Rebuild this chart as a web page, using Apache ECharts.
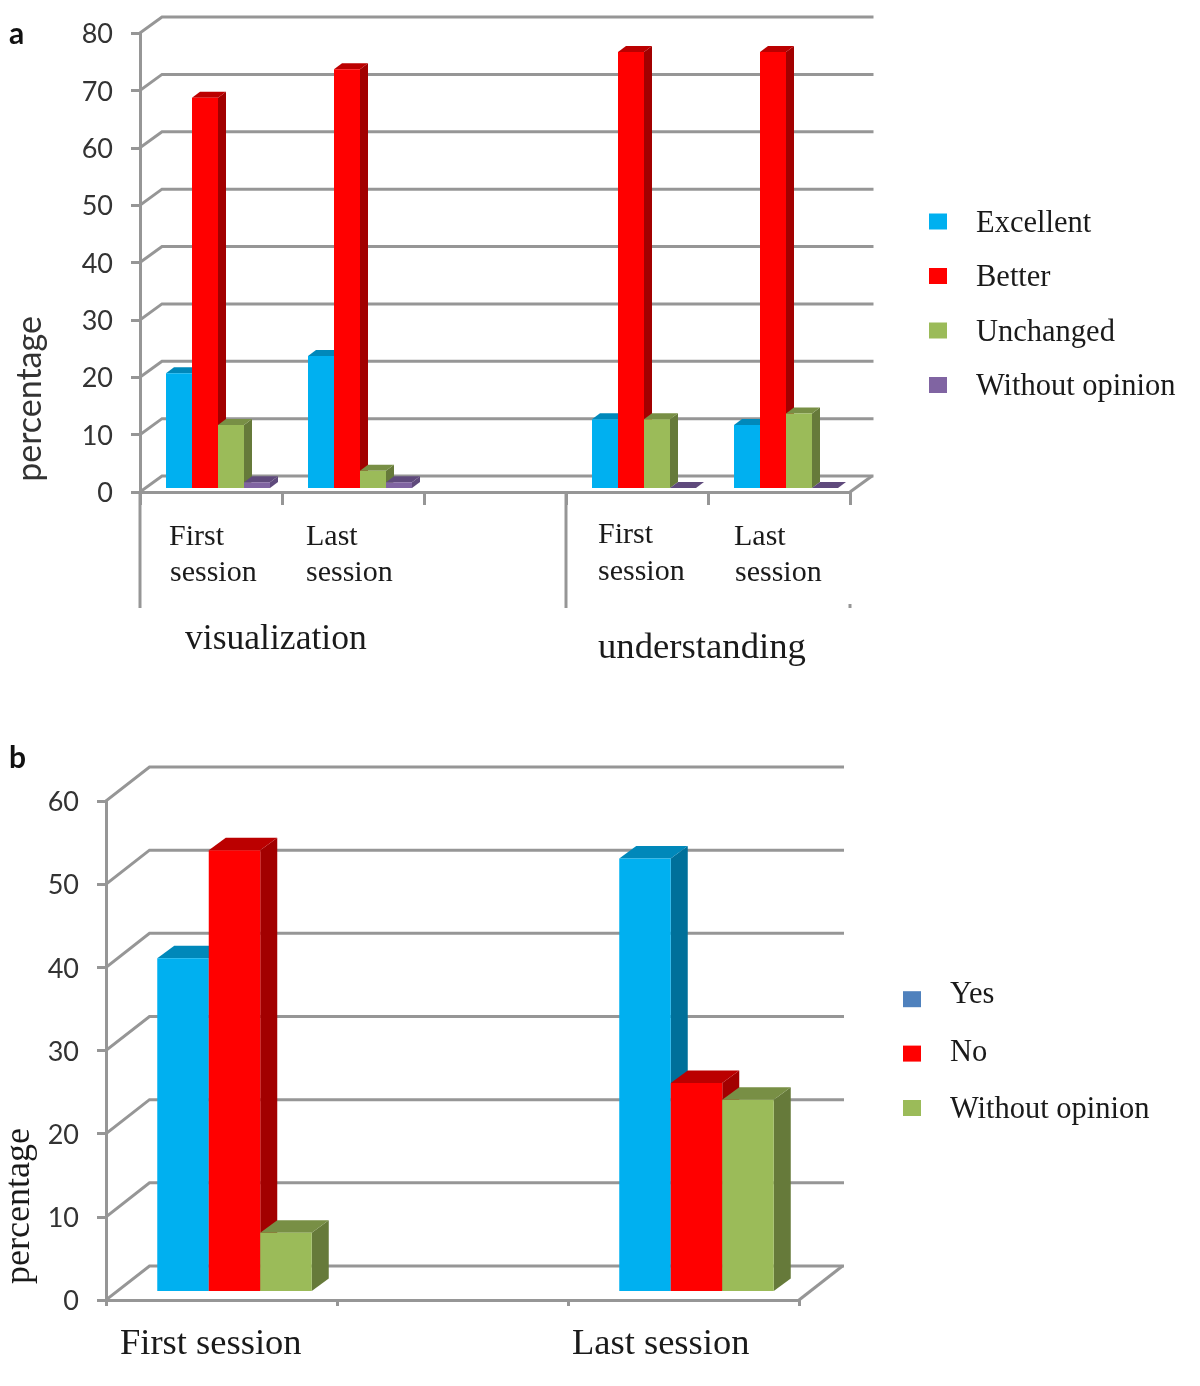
<!DOCTYPE html>
<html>
<head>
<meta charset="utf-8">
<title>Session ratings</title>
<style>
  html, body { margin: 0; padding: 0; background: #fff; }
  #chart { width: 1200px; height: 1386px; }
</style>
</head>
<body>
<div id="chart"></div>
<script src="https://cdn.jsdelivr.net/npm/echarts@6/dist/echarts.min.js"></script>
<script>
// panel a: the middle category is the empty gap between the two groups
var categoriesA = ["First session", "Last session", "", "First session", "Last session"];
var excellentA = [20, 23, null, 12, 11];
var betterA = [68, 73, null, 76, 76];
var unchangedA = [11, 3, null, 12, 13];
var noOpinionA = [1, 1, null, 0, 0];
var ticksA = [0, 10, 20, 30, 40, 50, 60, 70, 80];

// panel b
var categoriesB = ["First session", "", "Last session"];
var yesB = [40, null, 52];
var noB = [53, null, 25];
var noOpinionB = [7, null, 23];
var ticksB = [0, 10, 20, 30, 40, 50, 60];

var GREY = "#969696";
var SERIF = "'Liberation Serif', serif";
var SANS = "Lato, sans-serif";

var BLUE = { front: "#00b0f0", top: "#0088ba", side: "#00709a" };
var RED = { front: "#ff0000", top: "#bb0000", side: "#a20000" };
var GREEN = { front: "#9bbb59", top: "#788f45", side: "#667a3a" };
var PURPLE = { front: "#8064a2", top: "#5f4a7c", side: "#5f4a7c" };

// back wall lines: tilted from the axis up to the wall, then along the wall
function wallLines(depthX, depthY) {
  return function (params, api) {
    var p = api.coord([0, api.value(0)]);
    var rect = params.coordSys;
    var left = rect.x, right = rect.x + rect.width, y = p[1];
    var children = [{
      type: "polyline",
      shape: { points: [[left, y], [left + depthX, y - depthY], [right + depthX, y - depthY]] },
      style: { stroke: GREY, lineWidth: 3, fill: null, lineCap: "square" }
    }];
    if (api.value(0) === 0) {
      children.push({
        type: "line",
        shape: { x1: right, y1: y, x2: right + depthX, y2: y - depthY },
        style: { stroke: GREY, lineWidth: 3 }
      });
    }
    return { type: "group", children: children };
  };
}

// one bar drawn as front, top and side faces
function box(colors, slot, slots, cfg) {
  return function (params, api) {
    var top = api.coord([api.value(0), api.value(1)]);
    var zero = api.coord([api.value(0), 0]);
    var w = api.size([1, 0])[0] * cfg.barRatio;
    var x = top[0] + cfg.floorX + (slot - slots / 2) * w;
    var yb = zero[1] - cfg.floorY;
    var yt = yb - (zero[1] - top[1]);
    var dx = cfg.barX, dy = cfg.barY;
    var children = [
      { type: "polygon", shape: { points: [[x + w, yt], [x + w + dx, yt - dy], [x + w + dx, yb - dy], [x + w, yb]] }, style: { fill: colors.side } },
      { type: "polygon", shape: { points: [[x, yt], [x + dx, yt - dy], [x + w + dx, yt - dy], [x + w, yt]] }, style: { fill: colors.top } }
    ];
    if (yb > yt) {
      children.push({ type: "polygon", shape: { points: [[x, yt], [x + w, yt], [x + w, yb], [x, yb]] }, style: { fill: colors.front } });
    }
    return { type: "group", children: children };
  };
}

function barData(values) {
  var out = [];
  values.forEach(function (v, i) { if (v !== null) out.push([i, v]); });
  return out;
}

function barSeries(name, values, colors, slot, slots, grid, cfg) {
  return {
    name: name,
    type: "custom",
    xAxisIndex: grid,
    yAxisIndex: grid,
    itemStyle: { color: colors.front },
    data: barData(values),
    renderItem: box(colors, slot, slots, cfg),
    silent: true
  };
}

function wallSeries(ticks, grid, depthX, depthY) {
  return {
    type: "custom",
    xAxisIndex: grid,
    yAxisIndex: grid,
    data: ticks.map(function (t) { return [t]; }),
    encode: { y: 0 },
    renderItem: wallLines(depthX, depthY),
    silent: true
  };
}

// long separators under panel a, at the band edges that split the two groups
var separatorEdges = [-0.5, 2.5];
var separatorSeries = {
  type: "custom",
  xAxisIndex: 0,
  yAxisIndex: 0,
  data: separatorEdges.map(function (e) { return [e, 0]; }),
  renderItem: function (params, api) {
    var band = api.size([1, 0])[0];
    var zero = api.coord([0, 0]);
    var x = params.coordSys.x + (api.value(0) + 0.5) * band;
    return { type: "line", shape: { x1: x, y1: zero[1], x2: x, y2: zero[1] + 116 }, style: { stroke: GREY, lineWidth: 3 } };
  },
  silent: true
};

var cfgA = { barRatio: 26 / 142, floorX: 7, floorY: 4, barX: 8, barY: 6 };
var cfgB = { barRatio: 51.5 / 231, floorX: 13, floorY: 9, barX: 17, barY: 12.5 };

function xAxisFor(grid, cats, tickLen, offset) {
  return {
    type: "category",
    gridIndex: grid,
    data: cats,
    offset: offset,
    axisLine: { lineStyle: { color: GREY, width: 3 } },
    axisTick: { show: true, length: tickLen, lineStyle: { color: GREY, width: 3 } },
    axisLabel: { show: false },
    splitLine: { show: false }
  };
}

function yAxisFor(grid, max) {
  return {
    type: "value",
    gridIndex: grid,
    min: 0,
    max: max,
    interval: 10,
    axisLine: { show: true, lineStyle: { color: GREY, width: 3 } },
    axisTick: { show: true, length: 9, lineStyle: { color: GREY, width: 3 } },
    axisLabel: {
      margin: 27,
      formatter: "{v|{value}}",
      rich: { v: { color: "#333", fontFamily: SANS, fontSize: 27, padding: [3, 0, 0, 0] } }
    },
    splitLine: { show: false }
  };
}

// legend text goes through rich styles so it can sit off-centre from its swatch
function legendFor(left, top, gap, items, pads) {
  var rich = {};
  pads.forEach(function (p, i) {
    rich["t" + i] = { fontFamily: SERIF, fontSize: 30.5, lineHeight: 30, color: "#1a1a1a", padding: [p[0], 0, p[1], 24] };
  });
  return {
    left: left,
    top: top,
    orient: "vertical",
    icon: "rect",
    itemWidth: 18,
    itemHeight: 16,
    itemGap: gap,
    selectedMode: false,
    padding: 0,
    formatter: function (name) {
      var i = items.map(function (d) { return d.name; }).indexOf(name);
      return "{t" + i + "|" + name + "}";
    },
    textStyle: { rich: rich },
    data: items
  };
}

function serifText(text, x, y, size) {
  return { type: "text", x: x, y: y, z: 10, style: { text: text, font: size + "px " + SERIF, fill: "#1a1a1a", align: "left", verticalAlign: "middle" } };
}

var option = {
  backgroundColor: "#fff",
  animation: false,
  grid: [
    { left: 140, top: 33, width: 710, height: 459 },
    { left: 106, top: 801, width: 693, height: 499 }
  ],
  xAxis: [xAxisFor(0, categoriesA, 13, 0), xAxisFor(1, categoriesB, 6, 1)],
  yAxis: [yAxisFor(0, 80), yAxisFor(1, 60)],
  legend: [
    legendFor(929, 204, 19.5, [
      { name: "Excellent", itemStyle: { color: BLUE.front } },
      { name: "Better", itemStyle: { color: RED.front } },
      { name: "Unchanged", itemStyle: { color: GREEN.front } },
      { name: "Without opinion", itemStyle: { color: PURPLE.front } }
    ], [[4, 0], [4, 0], [4, 0], [4, 0]]),
    // the legend's Yes swatch really is a different blue from its bars,
    // and the swatches sit a little lower than their text at the top of the list
    legendFor(903, 979, 14, [
      { name: "Yes", itemStyle: { color: "#4f81bd" } },
      { name: "No", itemStyle: { color: RED.front } },
      { name: "Without opinion", itemStyle: { color: GREEN.front } }
    ], [[0, 9.4], [3.7, 5.7], [6.7, 2.7]])
  ],
  series: [
    wallSeries(ticksA, 0, 22, 16),
    separatorSeries,
    barSeries("Excellent", excellentA, BLUE, 0, 4, 0, cfgA),
    barSeries("Better", betterA, RED, 1, 4, 0, cfgA),
    barSeries("Unchanged", unchangedA, GREEN, 2, 4, 0, cfgA),
    barSeries("Without opinion", noOpinionA, PURPLE, 3, 4, 0, cfgA),
    wallSeries(ticksB, 1, 43.5, 34),
    barSeries("Yes", yesB, BLUE, 0, 3, 1, cfgB),
    barSeries("No", noB, RED, 1, 3, 1, cfgB),
    barSeries("Without opinion", noOpinionB, GREEN, 2, 3, 1, cfgB)
  ],
  graphic: [
    { type: "text", x: 9, y: 34, z: 10, style: { text: "a", font: "bold 30px " + SANS, fill: "#111", verticalAlign: "middle" } },
    { type: "text", x: 9, y: 758, z: 10, style: { text: "b", font: "bold 30px " + SANS, fill: "#111", verticalAlign: "middle" } },
    { type: "text", x: 30, y: 399, z: 10, rotation: Math.PI / 2, style: { text: "percentage", font: "34px " + SANS, fill: "#333", align: "center", verticalAlign: "middle" } },
    { type: "text", x: 20, y: 1206, z: 10, rotation: Math.PI / 2, style: { text: "percentage", font: "36px " + SERIF, fill: "#1a1a1a", align: "center", verticalAlign: "middle" } },
    serifText("First", 169, 537, 30), serifText("session", 170, 573, 30),
    serifText("Last", 306, 537, 30), serifText("session", 306, 573, 30),
    serifText("First", 598, 535, 30), serifText("session", 598, 572, 30),
    serifText("Last", 734, 537, 30), serifText("session", 735, 573, 30),
    serifText("visualization", 185, 640, 35.6),
    serifText("understanding", 598, 648, 36.7),
    serifText("First session", 120, 1344, 36.5),
    serifText("Last session", 572, 1344, 36.5),
    // stub left at the right edge of panel a in the original
    { type: "line", z: 10, shape: { x1: 850, y1: 604, x2: 850, y2: 608 }, style: { stroke: GREY, lineWidth: 3 } }
  ]
};

var chart = echarts.init(document.getElementById("chart"));
chart.setOption(option);
</script>
</body>
</html>
